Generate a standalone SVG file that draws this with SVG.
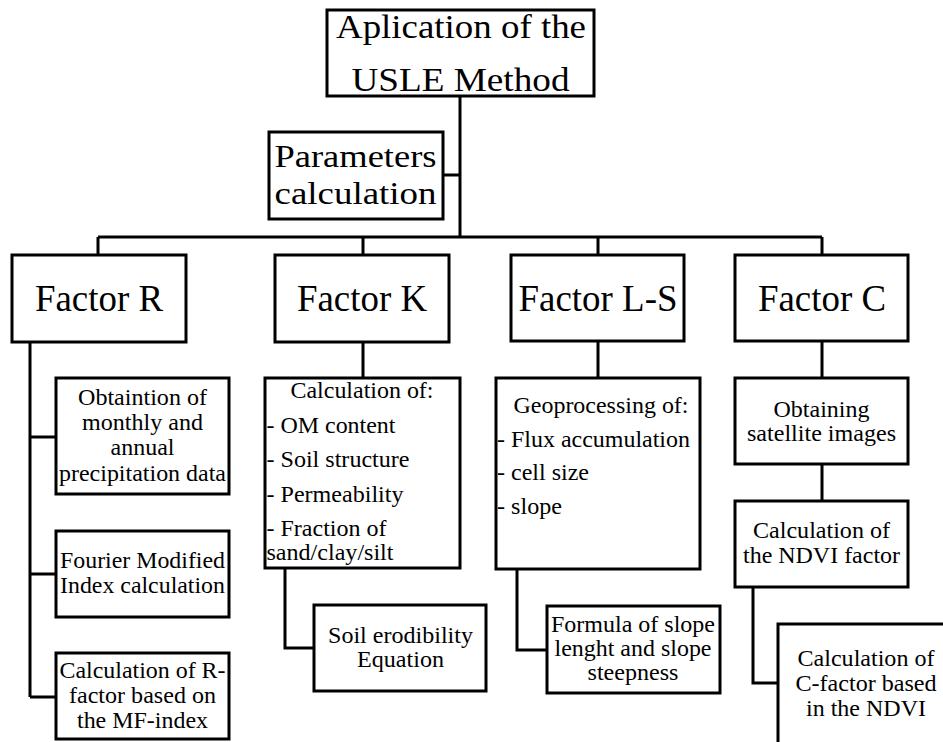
<svg xmlns="http://www.w3.org/2000/svg" width="943" height="742" viewBox="0 0 943 742">
<style>
rect{fill:#fff;stroke:#000;stroke-width:3}
.c path{fill:none;stroke:#000;stroke-width:3}
text{font-family:"Liberation Serif","Times New Roman",Tinos,serif;fill:#000}
.b{font-size:37px;text-anchor:middle}
.t{font-size:34px;text-anchor:middle}
.p{font-size:32px;text-anchor:middle}
.s{font-size:24px;text-anchor:middle}
.l{font-size:24px}
</style>
<g class="c" id="connectors">
<path d="M460,96V237"/>
<path d="M443,175H460"/>
<path d="M98,237H822M98,237V255M363,237V255M598,237V255M822,237V255"/>
<path d="M30,342V697M30,437H56M30,574H56M30,697H56"/>
<path d="M363,342V378M285,568V648H314"/>
<path d="M598,341V378M517,569V650H547"/>
<path d="M822,341V378M822,464V501M753,587V683H778"/>
</g>
<g id="usle">
<rect x="327" y="10" width="267" height="86"/>
<text class="t" x="461" y="38" textLength="250" lengthAdjust="spacingAndGlyphs">Aplication of the</text>
<text class="t" x="460.5" y="91" textLength="218" lengthAdjust="spacingAndGlyphs">USLE Method</text>
</g>
<g id="params">
<rect x="269" y="132" width="174" height="87"/>
<text class="p" x="355.5" y="167" textLength="162" lengthAdjust="spacingAndGlyphs">Parameters</text>
<text class="p" x="355.5" y="204" textLength="162" lengthAdjust="spacingAndGlyphs">calculation</text>
</g>
<g id="factorR">
<rect x="12" y="255" width="174" height="87"/>
<text class="b" x="99" y="311" textLength="128" lengthAdjust="spacingAndGlyphs">Factor R</text>
</g>
<g id="factorK">
<rect x="275" y="255" width="174" height="87"/>
<text class="b" x="362" y="311" textLength="130" lengthAdjust="spacingAndGlyphs">Factor K</text>
</g>
<g id="factorLS">
<rect x="511" y="255" width="173" height="86"/>
<text class="b" x="598" y="311" textLength="159" lengthAdjust="spacingAndGlyphs">Factor L-S</text>
</g>
<g id="factorC">
<rect x="735" y="255" width="173" height="86"/>
<text class="b" x="822" y="311" textLength="128" lengthAdjust="spacingAndGlyphs">Factor C</text>
</g>
<g id="obtaintion">
<rect x="56" y="378" width="173" height="116"/>
<text class="s" x="142.5" y="405" textLength="129" lengthAdjust="spacingAndGlyphs">Obtaintion of</text>
<text class="s" x="142.5" y="430" textLength="121" lengthAdjust="spacingAndGlyphs">monthly and</text>
<text class="s" x="142.5" y="455" textLength="64" lengthAdjust="spacingAndGlyphs">annual</text>
<text class="s" x="142.5" y="481" textLength="167" lengthAdjust="spacingAndGlyphs">precipitation data</text>
</g>
<g id="fourier">
<rect x="56" y="531" width="173" height="86"/>
<text class="s" x="142.5" y="568" textLength="165" lengthAdjust="spacingAndGlyphs">Fourier Modified</text>
<text class="s" x="142.5" y="593" textLength="165" lengthAdjust="spacingAndGlyphs">Index calculation</text>
</g>
<g id="calcR">
<rect x="56" y="653" width="173" height="86"/>
<text class="s" x="142.5" y="678" textLength="166" lengthAdjust="spacingAndGlyphs">Calculation of R-</text>
<text class="s" x="142.5" y="703" textLength="147" lengthAdjust="spacingAndGlyphs">factor based on</text>
<text class="s" x="142.5" y="728" textLength="131" lengthAdjust="spacingAndGlyphs">the MF-index</text>
</g>
<g id="calcK">
<rect x="265" y="378" width="195" height="190"/>
<text class="s" x="362" y="398" textLength="143" lengthAdjust="spacingAndGlyphs">Calculation of:</text>
<text class="l" x="266.5" y="433" textLength="129" lengthAdjust="spacingAndGlyphs">- OM content</text>
<text class="l" x="266.5" y="467" textLength="143" lengthAdjust="spacingAndGlyphs">- Soil structure</text>
<text class="l" x="266.5" y="502" textLength="137" lengthAdjust="spacingAndGlyphs">- Permeability</text>
<text class="l" x="266.5" y="536" textLength="120" lengthAdjust="spacingAndGlyphs">- Fraction of</text>
<text class="l" x="266.5" y="560" textLength="127" lengthAdjust="spacingAndGlyphs">sand/clay/silt</text>
</g>
<g id="soil">
<rect x="314" y="605" width="172" height="86"/>
<text class="s" x="400.5" y="643" textLength="145" lengthAdjust="spacingAndGlyphs">Soil erodibility</text>
<text class="s" x="400.5" y="667" textLength="87" lengthAdjust="spacingAndGlyphs">Equation</text>
</g>
<g id="geo">
<rect x="496" y="378" width="204" height="191"/>
<text class="s" x="601" y="413" textLength="175" lengthAdjust="spacingAndGlyphs">Geoprocessing of:</text>
<text class="l" x="497" y="447" textLength="193" lengthAdjust="spacingAndGlyphs">- Flux accumulation</text>
<text class="l" x="497" y="480" textLength="92" lengthAdjust="spacingAndGlyphs">- cell size</text>
<text class="l" x="497" y="514" textLength="65" lengthAdjust="spacingAndGlyphs">- slope</text>
</g>
<g id="formula">
<rect x="547" y="606" width="173" height="87"/>
<text class="s" x="633" y="632" textLength="164" lengthAdjust="spacingAndGlyphs">Formula of slope</text>
<text class="s" x="633" y="656" textLength="157" lengthAdjust="spacingAndGlyphs">lenght and slope</text>
<text class="s" x="633" y="680" textLength="91" lengthAdjust="spacingAndGlyphs">steepness</text>
</g>
<g id="obtaining">
<rect x="735" y="378" width="173" height="86"/>
<text class="s" x="821.5" y="417" textLength="96" lengthAdjust="spacingAndGlyphs">Obtaining</text>
<text class="s" x="821.5" y="441" textLength="149" lengthAdjust="spacingAndGlyphs">satellite images</text>
</g>
<g id="ndvi">
<rect x="735" y="501" width="173" height="86"/>
<text class="s" x="821.5" y="538" textLength="137" lengthAdjust="spacingAndGlyphs">Calculation of</text>
<text class="s" x="821.5" y="563" textLength="157" lengthAdjust="spacingAndGlyphs">the NDVI factor</text>
</g>
<g id="cfactor">
<rect x="778" y="624" width="180" height="140"/>
<text class="s" x="866" y="666" textLength="137" lengthAdjust="spacingAndGlyphs">Calculation of</text>
<text class="s" x="866" y="691" textLength="141" lengthAdjust="spacingAndGlyphs">C-factor based</text>
<text class="s" x="866" y="716" textLength="120" lengthAdjust="spacingAndGlyphs">in the NDVI</text>
</g>
</svg>
